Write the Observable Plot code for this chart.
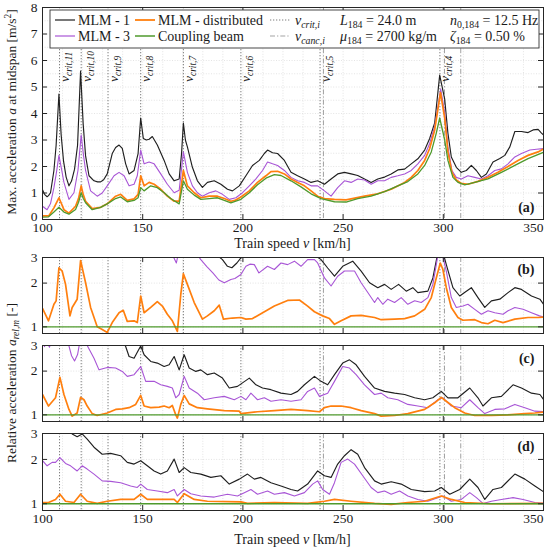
<!DOCTYPE html>
<html><head><meta charset="utf-8">
<script src="https://cdn.jsdelivr.net/npm/d3@7"></script>
<script src="https://cdn.jsdelivr.net/npm/@observablehq/plot@0.6"></script>
<style>
html,body{margin:0;padding:0;background:#fff}
#wrap{position:relative;width:550px;height:549px;overflow:hidden}
#wrap svg{position:absolute;left:0;top:0}
</style>
</head><body><div id="wrap"></div>
<script>
// ---------- data ----------
const xTicks = [100, 150, 200, 250, 300, 350];
const gridSpeeds = [110,120,130,140,150,160,170,180,190,200,210,220,230,240,250,260,270,280,290,300,310,320,330,340];
const critSpeeds = [108.5, 119.3, 132.7, 149, 170.3, 199, 238.5, 298.3];
const critIndex = ["11", "10", "9", "8", "7", "6", "5", "4"];
const cancSpeeds = [240.2, 300.6, 308.7];
const accTicks = [0,1,2,3,4,5,6,7,8];
const accGrid = [0.5,1,1.5,2,2.5,3,3.5,4,4.5,5,5.5,6,6.5,7,7.5];
const relTicks = [1, 2, 3];
const relGrid = [1, 2];

// panel (a): max acceleration [m/s^2]
const accMLM1 = [[100,1.12],[101,0.95],[102.3,0.86],[103,0.9],[104,1.01],[105.7,1.85],[106.8,2.8],[108.2,4.73],[109.3,3.2],[110.5,2.2],[111.8,1.6],[113.2,1.27],[114.5,1.45],[116,1.9],[117.5,2.8],[119,5.6],[120.3,3.6],[121.5,2.4],[123.2,1.65],[125.7,1.46],[127.5,1.42],[129,1.42],[130.5,1.5],[132.3,1.72],[134.8,2.49],[136.5,2.72],[138.2,2.81],[139.8,2.68],[141.5,2.1],[143.2,1.72],[145.7,1.85],[147.7,2.49],[149,3.83],[150.3,3.06],[151.8,3.0],[153.2,3.03],[154.8,3.13],[157.3,2.81],[160.7,2.23],[163.2,1.72],[165.7,1.46],[168.2,1.53],[169.4,2.5],[170.3,3.64],[171.3,3.0],[172.3,2.74],[174.8,1.97],[177.3,1.46],[179.8,1.21],[182.3,1.4],[185.7,1.46],[189,1.33],[192.3,1.14],[194.8,1.08],[198.2,1.27],[201.5,1.65],[204.8,2.04],[208.2,2.23],[210.7,2.49],[212.3,2.62],[214.8,2.52],[217.3,2.49],[220.7,2.23],[224,1.78],[227.3,1.65],[230.7,1.53],[234,1.4],[237.3,1.46],[240.7,1.33],[244,1.53],[247.3,1.72],[250.7,1.78],[254,1.72],[257.3,1.66],[260.7,1.53],[264,1.4],[267.3,1.53],[270.7,1.6],[274,1.72],[277.3,1.87],[280.7,1.9],[284,2.1],[287.3,2.29],[290.7,2.62],[293.2,3.06],[295.7,3.64],[298.2,5.45],[300.7,4.54],[302.3,3.26],[304,2.36],[306.5,1.97],[309,1.78],[311.5,1.85],[314,2.04],[316.5,1.85],[319,1.59],[321.5,1.72],[324.8,2.17],[328.2,2.3],[330.7,2.42],[333.2,2.74],[335.7,3.32],[339,3.32],[342.3,3.28],[344.8,3.38],[347.3,3.4],[349,3.26],[350.5,3.15]];
const accMLM3 = [[100,0.5],[102.3,0.37],[104,0.6],[105.7,1.2],[107,1.8],[108.2,2.42],[109.5,1.9],[110.7,1.4],[113.2,0.76],[115.7,1.01],[117.7,1.85],[119.3,3.19],[120.5,2.4],[121.5,1.85],[124,1.08],[127.3,0.88],[129.8,1.0],[132.3,1.27],[135.7,1.65],[138.2,1.78],[140.7,1.65],[143.2,1.27],[145.7,1.33],[147.3,1.65],[149,2.62],[150.7,2.1],[153.2,2.17],[155.7,2.1],[159,1.72],[162.3,1.33],[165.7,1.01],[168.2,1.1],[170.3,2.55],[172.3,1.78],[174.8,1.27],[177.3,1.01],[179.8,0.88],[183.2,1.01],[186.5,1.08],[189.8,0.95],[193.2,0.76],[196.5,0.82],[199.8,1.01],[203.2,1.27],[206.5,1.53],[209.8,1.85],[212.3,2.17],[214.8,2.1],[217.3,2.04],[220.7,1.85],[224,1.59],[227.3,1.46],[230.7,1.4],[234,1.27],[237.3,1.27],[240.7,1.08],[244,0.88],[247.3,1.2],[250.7,1.46],[254,1.4],[257.3,1.53],[260.7,1.49],[264,1.33],[267.3,1.46],[270.7,1.46],[274,1.59],[277.3,1.65],[280.7,1.72],[284,1.85],[287.3,2.1],[290.7,2.42],[293.2,2.87],[295.7,3.51],[298.7,4.92],[300.7,4.03],[302.3,2.74],[304.3,1.85],[306.5,1.59],[309,1.53],[312.3,1.65],[315.7,1.59],[319,1.53],[322.3,1.65],[325.7,1.85],[329,1.91],[332.3,2.1],[335.7,2.36],[339,2.49],[343.2,2.62],[346.5,2.65],[350.5,2.68]];
const accMLMdist = [[100,0.14],[103.2,0.14],[105.7,0.44],[108.2,0.82],[110.7,0.37],[113.2,0.24],[116.5,0.5],[118,0.8],[119.3,1.27],[120.3,0.95],[121.5,0.69],[124.8,0.41],[129,0.46],[132.3,0.59],[136.5,0.88],[139,0.95],[142.3,0.72],[145.7,0.78],[147.7,0.95],[149,1.65],[150.7,1.27],[153.2,1.4],[155.7,1.33],[159,1.14],[162.3,0.88],[165.7,0.69],[168.2,0.69],[170.3,1.85],[172.3,1.27],[175.7,1.01],[179,0.82],[183.2,0.88],[187.3,0.88],[190.7,0.79],[194,0.69],[196,0.72],[199,0.85],[203.2,1.08],[207.3,1.4],[211.5,1.65],[214,1.81],[217.3,1.82],[220.7,1.72],[224,1.53],[227.3,1.4],[230.7,1.27],[234,1.08],[237.3,0.88],[240.7,0.79],[245.7,0.76],[251.5,0.74],[254,0.78],[260.7,0.88],[267.3,0.97],[274,1.14],[280.7,1.4],[284,1.59],[287.3,1.85],[290.7,2.23],[293.2,2.68],[295.7,3.38],[298.6,4.79],[300.7,3.83],[302.3,2.55],[304.3,1.78],[306.5,1.49],[309,1.36],[312.3,1.33],[317.3,1.44],[322.3,1.59],[327.3,1.78],[332.3,2.0],[337.3,2.23],[342.3,2.42],[347.3,2.55],[350.5,2.68]];
const accCoupling = [[100,0.09],[103,0.1],[105.7,0.28],[108.2,0.46],[110.7,0.28],[113.2,0.2],[116.5,0.38],[118,0.65],[119.3,1.01],[120.3,0.8],[121.5,0.63],[124.8,0.37],[129,0.46],[132.3,0.59],[136.5,0.79],[139,0.85],[142.3,0.67],[145.7,0.72],[147.7,0.82],[149,1.2],[150.7,1.08],[154,1.27],[157.3,1.2],[160.7,1.01],[164,0.79],[168.2,0.59],[170.3,1.46],[172.3,1.14],[175.7,0.92],[179,0.76],[183.2,0.79],[187.3,0.82],[190.7,0.72],[194,0.63],[199,0.76],[203.2,1.01],[207.3,1.31],[211.5,1.56],[215.7,1.69],[219,1.66],[224,1.46],[229,1.23],[234,0.97],[239,0.79],[245.7,0.67],[251.5,0.66],[257.3,0.79],[264,0.88],[270.7,1.05],[277.3,1.27],[282.3,1.43],[287.3,1.72],[290.7,2.04],[294,2.55],[296.5,3.26],[298.2,3.83],[300.7,3.0],[302.3,2.23],[304.8,1.59],[307.3,1.4],[310.7,1.31],[315.7,1.4],[322.3,1.53],[329,1.78],[335.7,2.04],[342.3,2.3],[350.5,2.55]];

// panel (b): relative acceleration [-]
const relB_MLM1 = [[100,4.0],[130,4.2],[160,4.0],[180,3.5],[186,3.2],[189.8,2.9],[192.3,2.61],[194.5,2.55],[197,2.75],[199,2.98],[202,3.1],[210,3.15],[220,3.05],[230,3.1],[236,3.1],[239,2.9],[242.3,2.54],[245.7,2.23],[249.8,2.61],[254.8,2.83],[259,2.42],[263.2,2.01],[267.3,1.86],[270.7,1.96],[274,1.81],[277.7,1.96],[281.5,1.76],[284.8,1.86],[287.3,1.72],[292.3,1.76],[294.8,2.17],[297,3.1],[299,3.6],[301.5,2.68],[304.8,1.86],[308.2,1.63],[311.5,1.76],[314,1.86],[317.3,1.59],[320.7,1.36],[324,1.51],[328.2,1.55],[332.3,1.72],[335.7,1.86],[339,1.81],[344,1.63],[348.2,1.55],[350.7,1.39]];
const relB_MLM3 = [[100,3.6],[130,3.8],[160,3.5],[164.5,3.2],[166.8,2.75],[168,3.3],[172,3.5],[177.5,3.1],[179,2.9],[182,2.6],[185,2.35],[188,2.1],[190.7,2.01],[194,2.12],[196,2.15],[199,2.29],[201.5,2.61],[203.5,2.7],[205.7,2.68],[208,2.35],[212.3,2.61],[215.7,2.48],[219,2.75],[222.3,2.68],[225.7,2.83],[229,2.61],[232.3,2.9],[235.7,2.9],[237.3,2.75],[240.7,2.17],[244,1.91],[247.3,2.23],[250.7,2.42],[255.7,2.42],[259,2.01],[263,1.67],[265.7,1.47],[267.3,1.59],[269.8,1.43],[272.3,1.55],[275.7,1.47],[279,1.59],[282.3,1.43],[285.7,1.51],[289,1.47],[292.3,1.59],[294.8,1.96],[297.3,3.1],[299,3.4],[301.5,2.42],[304,1.59],[306.5,1.36],[309.8,1.39],[312.3,1.43],[315.7,1.32],[319,1.22],[322.3,1.29],[325.7,1.25],[329.8,1.22],[332.3,1.29],[335.7,1.36],[339.8,1.32],[344,1.25],[348,1.19],[350.7,1.16]];
const relB_MLMdist = [[100,1.34],[103,1.10],[105.7,1.43],[106.8,1.51],[108.2,2.55],[109.8,2.42],[111.5,1.96],[113.7,1.19],[114.8,1.36],[117.3,1.55],[119,2.86],[121.5,2.01],[124,1.36],[127.3,1.0],[129.8,0.96],[132.3,0.915],[134.8,1.07],[138.2,1.25],[140.3,1.30],[142.3,1.09],[145.7,1.10],[147.3,1.07],[149,1.63],[150.7,1.25],[154,1.36],[157.3,1.49],[159.8,1.39],[162.3,1.22],[164.8,1.10],[167.3,0.93],[169,1.67],[170.3,2.32],[172.3,1.96],[175.7,1.47],[179.8,1.13],[182.3,1.19],[185.7,1.29],[188.2,1.41],[190.3,1.13],[194.8,1.15],[199,1.16],[201.5,1.13],[204.8,1.14],[209,1.23],[215.7,1.39],[222.3,1.52],[228.2,1.53],[232.3,1.39],[235.7,1.27],[239.8,1.19],[243.2,1.14],[245.7,1.04],[249,1.10],[254,1.19],[259,1.20],[265.7,1.16],[269,1.12],[275.7,1.13],[280.7,1.14],[285.7,1.19],[290.7,1.32],[294,1.59],[296.5,2.17],[298.5,2.75],[299.8,2.48],[301.5,1.86],[304,1.36],[307.3,1.16],[309.8,1.11],[315.7,1.12],[319,1.07],[322.3,1.05],[325.7,1.11],[329.8,1.07],[335.7,1.13],[342.3,1.16],[347.3,1.16],[351,1.17]];

// panel (c)
const relC_MLM1 = [[100,4.0],[120,4.2],[135,3.6],[140,3.2],[141.5,2.95],[143.2,2.52],[145.7,2.45],[147.3,2.70],[149,2.98],[150.7,2.59],[154,2.33],[157.3,2.27],[160.7,2.15],[163.2,2.21],[165.7,2.52],[168.2,2.04],[170.7,2.59],[173.2,2.10],[176.5,1.99],[179,2.04],[182.3,1.89],[185.7,1.94],[189.8,1.79],[193.2,1.53],[197.3,1.57],[199.8,1.66],[203.2,1.79],[206.5,1.61],[209.8,1.53],[214,1.49],[219,1.41],[224,1.38],[227.3,1.45],[230.7,1.61],[235.7,1.84],[239,1.70],[242.3,1.61],[245.7,1.89],[249.8,2.27],[253.2,2.39],[256.5,2.21],[260.7,1.84],[265.7,1.53],[270.7,1.45],[275.7,1.41],[280.7,1.38],[285.7,1.31],[290.7,1.27],[294.8,1.31],[299,1.45],[302.3,1.31],[307.3,1.31],[313.2,1.53],[317.3,1.31],[319.8,1.15],[324,1.31],[329,1.34],[334.8,1.61],[339,1.53],[344,1.41],[348.2,1.38],[350.7,1.24]];
const relC_MLM3 = [[100,3.2],[101,2.95],[102,3.2],[103.5,2.92],[105,3.4],[110,3.6],[113,3.05],[114.5,2.55],[116,2.35],[117.5,2.6],[118.5,3.1],[120,3.4],[122.3,3.0],[125.7,2.45],[128.2,2.04],[132.3,2.12],[136.5,2.10],[139.8,1.99],[142.3,1.84],[145.7,1.89],[149,2.15],[151.5,1.70],[155.7,1.70],[159,1.61],[162.3,1.57],[164.8,1.53],[166.5,1.31],[168.2,1.38],[170.7,1.84],[173.2,1.53],[177.3,1.41],[180.7,1.27],[185.7,1.31],[190.7,1.34],[195.7,1.27],[199,1.34],[201.5,1.27],[204,1.41],[207.3,1.27],[210.7,1.31],[214,1.24],[219,1.27],[224,1.24],[229,1.27],[232.3,1.45],[235.7,1.53],[238.2,1.34],[242.3,1.41],[245.7,1.70],[249.8,2.15],[253.2,2.10],[256.5,1.89],[260.7,1.61],[265.7,1.38],[269,1.41],[272.3,1.31],[277.3,1.27],[282.3,1.18],[287.3,1.15],[292.3,1.12],[297.3,1.27],[299.8,1.31],[304,1.15],[309,1.12],[313.2,1.27],[317.3,1.12],[320.7,1.02],[325.7,1.09],[330.7,1.10],[335.7,1.18],[340.7,1.12],[345.7,1.06],[351,1.05]];
const relC_MLMdist = [[100,1.38],[103,1.15],[106.5,1.31],[108.7,1.81],[110.7,1.38],[113.2,1.09],[114.8,0.98],[117.3,1.03],[119,1.32],[120.7,1.27],[122.3,1.15],[124.8,1.02],[127.3,0.99],[132.3,1.03],[136.5,1.09],[139.8,1.10],[143.2,1.12],[146.5,1.18],[149,1.36],[150.7,1.15],[154,1.12],[158.2,1.13],[160.7,1.15],[163.2,1.12],[164.8,1.16],[166.5,1.0],[167.3,0.95],[169,1.18],[170.7,1.36],[173.2,1.19],[177.3,1.12],[182.3,1.10],[190.7,1.07],[198.2,1.06],[199,1.02],[207.3,1.05],[215.7,1.07],[224,1.09],[232.3,1.07],[238.2,1.05],[240.7,1.12],[244,1.15],[249,1.15],[254,1.12],[259,1.07],[265.7,1.02],[269,0.98],[275.7,0.99],[282.3,1.02],[290.7,1.09],[295.7,1.21],[299,1.32],[301.5,1.24],[305.7,1.12],[310.7,1.03],[315.7,0.99],[324,0.99],[332.3,1.0],[340.7,1.02],[345.7,1.03],[351,1.05]];

// panel (d)
const relD_MLM1 = [[100,3.8],[110,3.5],[114.8,2.98],[117.3,2.85],[119.8,2.98],[122.3,2.75],[125.7,2.42],[129.8,2.17],[134,2.20],[139,2.12],[142.3,1.91],[145.7,1.86],[149,1.96],[152.3,1.81],[155.7,1.67],[159,1.59],[162.3,1.67],[165.7,2.01],[168.2,1.63],[170.7,1.76],[174,1.63],[179,1.59],[184,1.51],[189,1.55],[193.2,1.36],[198.2,1.47],[202.3,1.59],[205.7,1.47],[209,1.51],[214,1.39],[219,1.32],[224,1.25],[227.3,1.22],[232.3,1.36],[237.3,1.67],[240.7,1.55],[244,1.51],[247.3,1.86],[250.7,2.12],[254,2.33],[257.3,2.17],[260.7,1.76],[265.7,1.43],[269,1.36],[274,1.41],[279,1.36],[284,1.25],[290.7,1.21],[295.7,1.22],[299,1.29],[303.2,1.16],[308.2,1.25],[313.2,1.47],[317.3,1.29],[320.7,1.07],[324.8,1.25],[329,1.29],[335.7,1.59],[340.7,1.47],[345.7,1.32],[350.7,1.19]];
const relD_MLM3 = [[100,1.96],[102.3,1.81],[104.8,1.91],[106.5,1.91],[108.7,2.06],[111.5,1.88],[114,1.81],[117.3,1.67],[119.8,1.81],[122.3,1.72],[125.7,1.59],[129.8,1.43],[134,1.42],[139,1.39],[144,1.32],[147.3,1.29],[149,1.36],[152.3,1.25],[157.3,1.22],[162.3,1.19],[165.7,1.25],[167.3,1.13],[170.7,1.25],[174,1.17],[179,1.13],[185.7,1.11],[192.3,1.16],[197.3,1.13],[200.7,1.19],[204,1.25],[207.3,1.16],[212.3,1.22],[215.7,1.16],[220.7,1.19],[225.7,1.13],[230.7,1.19],[234.8,1.36],[237.3,1.43],[239.8,1.25],[243.2,1.16],[245.7,1.39],[249,1.91],[252.3,2.01],[255.7,1.86],[259.8,1.55],[264,1.29],[267.3,1.19],[270.7,1.22],[274,1.16],[278.2,1.22],[282.3,1.13],[287.3,1.07],[292.3,1.04],[297.3,1.10],[299.8,1.13],[304,1.04],[309,1.07],[313.2,1.19],[316.5,1.10],[319.8,1.005],[324,1.04],[329,1.07],[334.8,1.10],[339.8,1.07],[345.7,1.02],[351,1.005]];
const relD_MLMdist = [[100,1.02],[103,1.02],[106.5,1.07],[108.7,1.16],[111.5,1.04],[115.7,1.02],[119,1.16],[122.3,1.04],[127.3,1.005],[132.3,1.04],[139,1.07],[145.7,1.07],[149,1.16],[152.3,1.07],[159,1.07],[165.7,1.07],[167.3,1.02],[170.7,1.17],[175.7,1.07],[182.3,1.04],[199,1.03],[202.3,1.005],[215.7,1.02],[232.3,1.005],[240.7,1.04],[245.7,1.07],[254,1.04],[265.7,1.005],[274,0.99],[282.3,1.02],[290.7,1.04],[299,1.13],[304,1.07],[310.7,1.02],[324,1.0],[351,1.005]];
const relCoupling = [[100,1],[351,1]];

// ---------- styling ----------
const W = 550, H = 549, ML = 42, MR = 7;
const FONT = '"Liberation Serif", "Times New Roman", serif';
const INK = "#1a1a1a";
const C = {mlm1: "#1f1f1f", mlm3: "#a855d6", dist: "#ff7f0e", coup: "#4f9a2c"};

function panel(cfg) {
  const ph = cfg.bottom - cfg.top;
  const pw = W - ML - MR;
  const grid = {stroke: "#d9d9d9", strokeWidth: 0.7, strokeDasharray: "1,1.6"};
  const yLab = {frameAnchor: "left", textAnchor: "end", dx: -5, text: d => String(d), fontSize: 13.5, fill: INK, fontFamily: FONT};
  const marks = [
    Plot.ruleX(gridSpeeds, grid),
    Plot.ruleY(cfg.yGrid, grid),
    Plot.ruleX(critSpeeds, {stroke: "#7d7d7d", strokeWidth: 1, strokeDasharray: "1.3,1.7"}),
    Plot.ruleX(cancSpeeds, {stroke: "#a3a3a3", strokeWidth: 1, strokeDasharray: "5,2,1.3,2"}),
    ...cfg.series.map(s => Plot.line(s.data, {x: d => d[0], y: d => d[1], stroke: s.color, strokeWidth: s.w, clip: true})),
    Plot.frame({stroke: "#262626", strokeWidth: 1}),
    Plot.tickX(xTicks, {x: d => d, insetTop: ph - 5, stroke: "#262626"}),
    Plot.tickX(xTicks, {x: d => d, insetBottom: ph - 5, stroke: "#262626"}),
    Plot.tickY(cfg.yTicks, {y: d => d, insetRight: pw - 5, stroke: "#262626"}),
    Plot.tickY(cfg.yTicks, {y: d => d, insetLeft: pw - 5, stroke: "#262626"}),
    Plot.text(cfg.yTicks.slice(0, 1), {...yLab, y: d => d, dy: cfg.firstDy || 0}),
    Plot.text(cfg.yTicks.slice(1), {...yLab, y: d => d, dy: 0}),
    Plot.text([cfg.label], {frameAnchor: cfg.labelAnchor, textAnchor: "end", lineAnchor: "middle", dx: -9, dy: cfg.labelDy, text: d => d, fontSize: 14, fontWeight: "bold", fill: INK, fontFamily: FONT})
  ];
  if (cfg.xLabels) {
    marks.push(Plot.text(xTicks.slice(0, -1), {x: d => d, frameAnchor: "bottom", dy: cfg.xLabelDy, text: d => String(d), fontSize: 13.5, fill: INK, fontFamily: FONT}));
    marks.push(Plot.text(xTicks.slice(-1), {x: d => d, frameAnchor: "bottom", textAnchor: "end", dy: cfg.xLabelDy, text: d => String(d), fontSize: 13.5, fill: INK, fontFamily: FONT}));
  }
  return Plot.plot({
    width: W, height: H,
    marginLeft: ML, marginRight: MR, marginTop: cfg.top, marginBottom: H - cfg.bottom,
    x: {domain: [100, 350], axis: null},
    y: {type: cfg.yType, domain: cfg.yDomain, axis: null},
    style: {background: "transparent", fontFamily: FONT, overflow: "visible"},
    marks
  });
}

const sers = (m1, m3, di, co) => [
  {data: m1, color: C.mlm1, w: 1.15},
  {data: m3, color: C.mlm3, w: 1.1},
  {data: di, color: C.dist, w: 1.7},
  {data: co, color: C.coup, w: 1.3}
];

const pA = panel({top: 7, bottom: 219, yType: "linear", yDomain: [0, 8], yTicks: accTicks, yGrid: accGrid, firstDy: -3,
  series: sers(accMLM1, accMLM3, accMLMdist, accCoupling), label: "(a)", labelAnchor: "bottom-right", labelDy: -12, xLabels: true, xLabelDy: 12.5});
const pB = panel({top: 257, bottom: 333, yType: "log", yDomain: [0.9, 3], yTicks: relTicks, yGrid: relGrid,
  series: sers(relB_MLM1, relB_MLM3, relB_MLMdist, relCoupling), label: "(b)", labelAnchor: "top-right", labelDy: 12});
const pC = panel({top: 345, bottom: 421, yType: "log", yDomain: [0.9, 3], yTicks: relTicks, yGrid: relGrid,
  series: sers(relC_MLM1, relC_MLM3, relC_MLMdist, relCoupling), label: "(c)", labelAnchor: "top-right", labelDy: 13});
const pD = panel({top: 433, bottom: 510, yType: "log", yDomain: [0.9, 3], yTicks: relTicks, yGrid: relGrid,
  series: sers(relD_MLM1, relD_MLM3, relD_MLMdist, relCoupling), label: "(d)", labelAnchor: "top-right", labelDy: 13, xLabels: true, xLabelDy: 12.5});

const wrap = document.getElementById("wrap");
[pA, pB, pC, pD].forEach(p => wrap.appendChild(p));

// ---------- rich text helper ----------
function rich(parent, x, y, parts, size, rotate) {
  const t = parent.append("text").attr("font-size", size).attr("fill", INK)
    .attr("font-family", FONT).attr("text-anchor", "start");
  if (rotate) t.attr("transform", `translate(${x},${y}) rotate(${rotate})`);
  else t.attr("x", x).attr("y", y);
  let shift = 0;
  for (const p of parts) {
    const target = p.sub ? size * 0.22 : p.sup ? -size * 0.38 : 0;
    const ts = t.append("tspan").attr("dy", target - shift).text(p.t);
    shift = target;
    if (p.sub || p.sup) ts.attr("font-size", size * 0.7);
    if (p.it) ts.attr("font-style", "italic");
  }
  return t;
}

const xs = pA.scale("x");
const xOf = v => (xs && xs.apply) ? xs.apply(v) : ML + (v - 100) / 250 * (W - ML - MR);

const gA = d3.select(pA).append("g");
// critical-speed labels
critSpeeds.forEach((v, i) => {
  rich(gA, xOf(v) + 10, 82, [{t: "v", it: true}, {t: "crit," + critIndex[i], it: true, sub: true}], 13.5, -90);
});

// legend
gA.append("rect").attr("x", 50).attr("y", 10).attr("width", 489).attr("height", 38)
  .attr("fill", "#fff").attr("stroke", "#333").attr("stroke-width", 0.9);
const legLines = [
  {x: 55, y: 20, color: C.mlm1, w: 1.2, dash: null},
  {x: 55, y: 36, color: C.mlm3, w: 1.2, dash: null},
  {x: 135, y: 20, color: C.dist, w: 1.8, dash: null},
  {x: 135, y: 36, color: C.coup, w: 1.5, dash: null},
  {x: 270, y: 20, color: "#7d7d7d", w: 1, dash: "1.3,1.7"},
  {x: 270, y: 36, color: "#a3a3a3", w: 1, dash: "5,2,1.3,2"}
];
legLines.forEach(l => {
  const ln = gA.append("line").attr("x1", l.x).attr("x2", l.x + 20).attr("y1", l.y).attr("y2", l.y)
    .attr("stroke", l.color).attr("stroke-width", l.w);
  if (l.dash) ln.attr("stroke-dasharray", l.dash);
});
const r1 = 24.8, r2 = 40.8, LS = 14;
rich(gA, 78, r1, [{t: "MLM - 1"}], LS);
rich(gA, 78, r2, [{t: "MLM - 3"}], LS);
rich(gA, 158, r1, [{t: "MLM - distributed"}], LS);
rich(gA, 158, r2, [{t: "Coupling beam"}], LS);
rich(gA, 295, r1, [{t: "v", it: true}, {t: "crit,i", it: true, sub: true}], LS);
rich(gA, 295, r2, [{t: "v", it: true}, {t: "canc,i", it: true, sub: true}], LS);
rich(gA, 340, r1, [{t: "L", it: true}, {t: "184", sub: true}, {t: " = 24.0 m"}], LS);
rich(gA, 340, r2, [{t: "μ", it: true}, {t: "184", sub: true}, {t: " = 2700 kg/m"}], LS);
rich(gA, 450, r1, [{t: "n", it: true}, {t: "0,184", sub: true}, {t: " = 12.5 Hz"}], LS);
rich(gA, 450, r2, [{t: "ζ", it: true}, {t: "184", sub: true}, {t: " = 0.50 %"}], LS);

// axis titles
const mid = (ML + W - MR) / 2;
rich(gA, mid, 248, [{t: "Train speed "}, {t: "v", it: true}, {t: " [km/h]"}], 14).attr("text-anchor", "middle");
rich(gA, 16, 112, [{t: "Max. acceleration "}, {t: "a", it: true}, {t: " at midspan [m/s"}, {t: "2", sup: true}, {t: "]"}], 13.5, -90).attr("text-anchor", "middle");

const gD = d3.select(pD).append("g");
rich(gD, mid, 543.5, [{t: "Train speed "}, {t: "v", it: true}, {t: " [km/h]"}], 14).attr("text-anchor", "middle");
rich(gD, 16, 383, [{t: "Relative acceleration "}, {t: "a", it: true}, {t: "rel,m", it: true, sub: true}, {t: " [-]"}], 13.5, -90).attr("text-anchor", "middle");
</script></body></html>
